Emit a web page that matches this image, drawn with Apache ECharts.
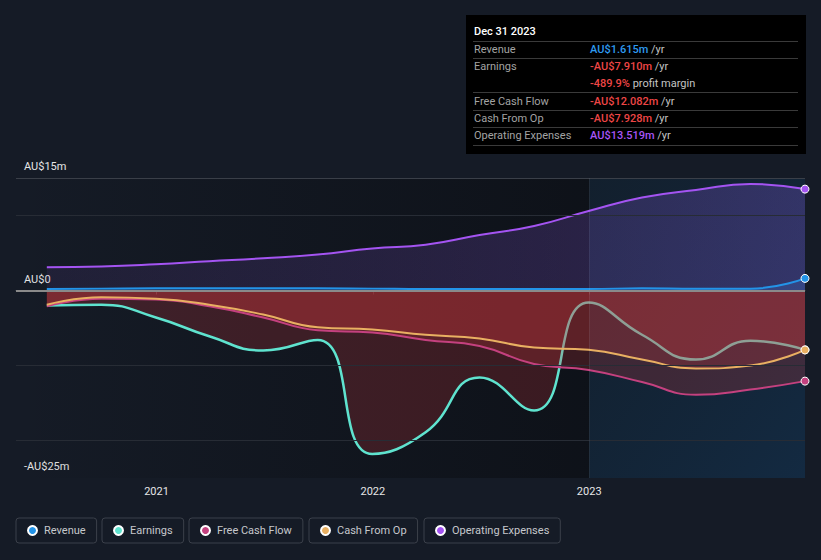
<!DOCTYPE html>
<html><head><meta charset="utf-8">
<script src="https://cdn.jsdelivr.net/npm/echarts@6/dist/echarts.min.js"></script>
<style>html,body{margin:0;padding:0;background:#151b26;}#c{width:821px;height:560px;}</style>
</head><body><div id="c"></div>
<script>
const dates = ['2020-06-30','2020-09-30','2020-12-31','2021-03-31','2021-06-30','2021-09-30','2021-12-31','2022-03-31','2022-06-30','2022-09-30','2022-12-31','2023-03-31','2023-06-30','2023-09-30','2023-12-31'];
const revenue  = [0.2, 0.25, 0.3, 0.3, 0.3, 0.3, 0.25, 0.2, 0.2, 0.2, 0.2, 0.3, 0.25, 0.25, 1.615];
const earnings = [-2.0, -1.9, -3.6, -6.1, -8.0, -6.6, -21.8, -18.9, -11.6, -16.0, -1.6, -5.9, -9.2, -6.7, -7.910];
const fcf      = [-2.1, -1.1, -1.2, -2.1, -3.6, -5.3, -5.6, -6.6, -7.4, -9.8, -10.6, -12.2, -13.9, -13.2, -12.082];
const cfo      = [-1.9, -0.9, -1.1, -1.9, -3.2, -4.9, -5.2, -5.9, -6.4, -7.6, -7.9, -9.2, -10.4, -10.0, -7.928];
const opex     = [3.1, 3.2, 3.5, 3.9, 4.3, 4.8, 5.6, 6.1, 7.4, 8.6, 10.6, 12.4, 13.4, 14.2, 13.519];
const seriesNames = ['Revenue','Earnings','Free Cash Flow','Cash From Op','Operating Expenses'];
const yearTicks = ['2021-01-01','2022-01-01','2023-01-01'];
const yTickValues = [-25, 0, 15];
const tooltipDate = 'Dec 31 2023';
const profitMarginText = '-489.9%';

const colors = ['#2394e8','#5fe3cf','#c4417f','#e9b062','#a454f2'];
const ts = d => Date.parse(d);
const pts = arr => arr.map((v,i) => {
  const item = {value:[ts(dates[i]), v]};
  if (i === arr.length-1) { item.symbol = 'circle'; item.symbolSize = 8; }
  return item;
});
const xMin = Date.UTC(2020,4,9), xMax = ts(dates[dates.length-1]);
const redArea = {color:'rgba(214,58,62,0.32)'};

function lineSeries(name, arr, idx, area, z, extra) {
  return Object.assign({
    name, type:'line', data: pts(arr), smooth:0.5, symbol:'none',
    lineStyle:{width:2, color:colors[idx]},
    itemStyle:{color:colors[idx], borderColor:'#ffffff', borderWidth:1},
    areaStyle: area, z: z, clip:false
  }, extra||{});
}

const fmt = v => (v<0?'-':'') + 'AU$' + Math.abs(v).toFixed(3) + 'm';
const last = a => a[a.length-1];

const chart = echarts.init(document.getElementById('c'), null, {renderer:'svg'});
const tipRows = [
  {label:'Revenue', y:49, val:fmt(last(revenue)), c:'#2e9bf0', unit:'/yr'},
  {label:'Earnings', y:66, val:fmt(last(earnings)), c:'#ee4646', unit:'/yr'},
  {label:'', y:83, val:profitMarginText, c:'#ee4646', unit:'profit margin'},
  {label:'Free Cash Flow', y:101, val:fmt(last(fcf)), c:'#ee4646', unit:'/yr'},
  {label:'Cash From Op', y:118, val:fmt(last(cfo)), c:'#ee4646', unit:'/yr'},
  {label:'Operating Expenses', y:135, val:fmt(last(opex)), c:'#a855f7', unit:'/yr'}
];
const sepY = [41, 58, 92, 110, 127, 145];
const graphic = [{type:'rect', shape:{x:466,y:15,width:340,height:139}, style:{fill:'#000000'}, z:10},
  {type:'text', x:474, y:31, style:{text:tooltipDate, fill:'#ffffff', font:'500 11px Roboto', verticalAlign:'middle'}, z:11}];
sepY.forEach(y => graphic.push({type:'line', shape:{x1:473,y1:y+0.5,x2:798,y2:y+0.5}, style:{stroke:'#3a3a3a', lineWidth:1}, z:11}));
tipRows.forEach(r => {
  if (r.label) graphic.push({type:'text', x:474, y:r.y, style:{text:r.label, fill:'#a3a3a3', font:'11px Roboto', verticalAlign:'middle'}, z:11});
  graphic.push({type:'text', x:590, y:r.y, style:{text:'{v|'+r.val+'} {u|'+r.unit+'}', verticalAlign:'middle', font:'11px Roboto',
    rich:{v:{fill:r.c, fontWeight:500, fontSize:11, fontFamily:'Roboto'}, u:{fill:'#c4c4c4', fontSize:11, fontFamily:'Roboto'}}}, z:11});
});

const legendLefts = [16, 102, 189, 309, 424];
const legends = seriesNames.map((n,i) => ({
  data:[n], left:legendLefts[i], top:518, orient:'horizontal', icon:'circle', itemWidth:9, itemHeight:9,
  borderColor:'#3b404a', borderWidth:1, borderRadius:3, padding:[7,11,7,11], selectedMode:false,
  textStyle:{color:'#c6c8cc', fontSize:11, fontFamily:'Roboto', padding:[0,0,0,2]}
}));

chart.setOption({
  backgroundColor:'#151b26',
  animation:false,
  textStyle:{fontFamily:'Roboto'},
  grid:{left:16, right:16, top:178, bottom:82, containLabel:false},
  legend: legends,
  graphic: graphic,
  xAxis:{type:'value', min:xMin, max:xMax,
    axisLine:{show:true, lineStyle:{color:'#474c55', width:1}},
    axisTick:{show:true, customValues:yearTicks.map(ts), length:4, lineStyle:{color:'#474c55'}},
    axisLabel:{customValues:yearTicks.map(ts), formatter:v => String(new Date(v).getUTCFullYear()), color:'#e6e6e6', fontSize:11, margin:8},
    splitLine:{show:false}},
  yAxis:{type:'value', min:-25, max:15,
    axisLine:{show:false}, axisTick:{show:false}, splitLine:{show:false},
    axisLabel:{customValues:yTickValues, inside:true, margin:8, verticalAlign:'bottom', padding:[0,0,6,0], color:'#e6e6e6', fontSize:11,
      formatter:v => v===0 ? 'AU$0' : (v<0?'-':'')+'AU$'+Math.abs(v)+'m'}},
  series:[
    {type:'line', name:'_bg', data:[], z:1, silent:true,
      markArea:{silent:true, data:[
        [{xAxis:xMin, yAxis:15, itemStyle:{color:{type:'linear',x:0,y:0,x2:1,y2:0,colorStops:[{offset:0,color:'rgba(8,10,14,0)'},{offset:1,color:'rgba(8,10,14,0.55)'}]}}},{xAxis:ts('2023-01-01'), yAxis:-25}],
        [{xAxis:ts('2023-01-01'), yAxis:15, itemStyle:{color:{type:'linear',x:0,y:0,x2:1,y2:1,colorStops:[{offset:0,color:'rgba(14,40,60,0.35)'},{offset:1,color:'rgba(18,52,84,0.6)'}]}}},{xAxis:xMax, yAxis:-25}]
      ]},
      markLine:{silent:true, symbol:'none', label:{show:false}, data:[
        {yAxis:15, lineStyle:{color:'#3a3f48', width:1, type:'solid'}},
        {yAxis:10, lineStyle:{color:'#272c35', width:1, type:'solid'}},
        {yAxis:-10, lineStyle:{color:'#272c35', width:1, type:'solid'}},
        {yAxis:-20, lineStyle:{color:'#272c35', width:1, type:'solid'}},
        {xAxis:ts('2023-01-01'), lineStyle:{color:'rgba(255,255,255,0.07)', width:1, type:'solid'}},
        {yAxis:0, lineStyle:{color:'#8a8a8a', width:2, type:'solid'}}
      ]}},
    lineSeries('Revenue', revenue, 0, {color:'rgba(35,148,232,0.3)'}, 3),
    lineSeries('Earnings', earnings, 1, redArea, 2, {lineStyle:{width:2.5, color:colors[1]}}),
    lineSeries('Free Cash Flow', fcf, 2, redArea, 3),
    lineSeries('Cash From Op', cfo, 3, redArea, 4),
    lineSeries('Operating Expenses', opex, 4, {color:{type:'linear',x:0,y:0,x2:1,y2:0,colorStops:[{offset:0,color:'rgba(140,85,215,0.14)'},{offset:1,color:'rgba(140,95,235,0.38)'}]}}, 3)
  ]
});
</script></body></html>
